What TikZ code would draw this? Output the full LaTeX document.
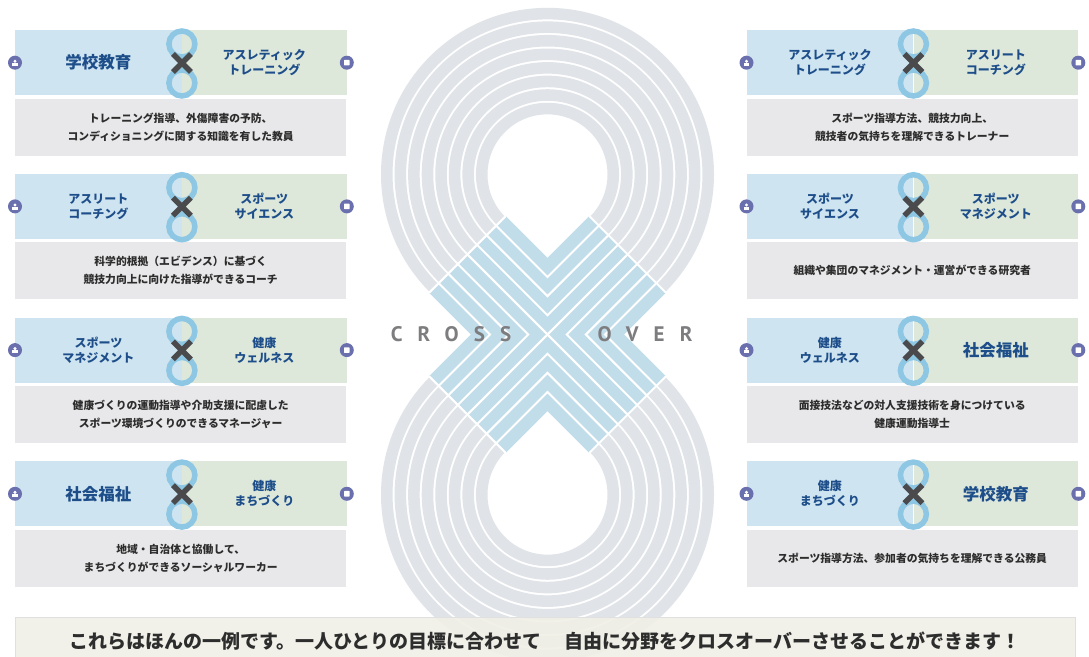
\documentclass[tikz,border=0pt]{standalone}
\usepackage{fontspec}
\setmainfont{Noto Sans CJK JP}
\newfontfamily\capsfont{PT Sans}[LetterSpace=72]
\usepackage{tikz}
\usetikzlibrary{positioning, calc}
\definecolor{bandBlue}{RGB}{206,228,240}
\definecolor{bandGreen}{RGB}{221,232,219}
\definecolor{descGray}{RGB}{232,232,234}
\definecolor{headBlue}{RGB}{30,78,138}
\definecolor{ringBlue}{RGB}{142,199,228}
\definecolor{crossGray}{RGB}{74,74,76}
\definecolor{iconPurple}{RGB}{106,111,174}
\definecolor{trackGray}{RGB}{224,228,232}
\definecolor{laneBlue}{RGB}{194,221,234}
\definecolor{noteBeige}{RGB}{240,240,230}
\definecolor{textDark}{RGB}{45,45,45}
\definecolor{wordGray}{RGB}{125,125,128}

% one card: #1 name, #2/#3 top left corner, #4/#5 left field, #6/#7 right field, #8 role
\newcommand{\pairbox}[8]{%
  \node[lhalf, #4, anchor=north west] (#1l) at (#2,#3) {#5};
  \node[rhalf, #6, right=0pt of #1l] (#1r) {#7};
  \node[descbox, anchor=north west] (#1d) at ([yshift=-3pt]#1l.south west) {#8};
  \node[icondot] (#1p) at (#1l.west) {};
  \node[icondot] (#1q) at (#1r.east) {};
  \fill[white] ([shift={(-2.6,-3.2)}]#1p.center) rectangle ++(5.2,2.8);
  \fill[white] ([yshift=1.4pt]#1p.center) circle[radius=1.7];
  \fill[white, rounded corners=0.6pt] ([shift={(-2.8,-2.8)}]#1q.center) rectangle ++(5.6,5.6);
  \draw[ringicon] ([yshift=-14pt]#1l.north east) circle[radius=13]
                  ([yshift=-53pt]#1l.north east) circle[radius=13];
  \draw[crossmark] ([yshift=-33pt]#1l.north east) +(-9,-9) -- +(9,9) +(-9,9) -- +(9,-9);
}

\begin{document}
\begin{tikzpicture}[x=1pt, y=1pt,
    lhalf/.style={rectangle, fill=bandBlue, minimum width=166.5pt, minimum height=65pt,
      inner sep=0pt, align=center, text=headBlue, font=\bfseries\fontsize{12}{15}\selectfont},
    rhalf/.style={lhalf, fill=bandGreen, minimum width=164.5pt},
    bigname/.style={font=\bfseries\fontsize{16.5}{19}\selectfont},
    descbox/.style={rectangle, fill=descGray, minimum width=331pt, minimum height=57pt,
      inner sep=0pt, align=center, text=textDark, font=\bfseries\fontsize{10.8}{18}\selectfont},
    icondot/.style={circle, fill=iconPurple, minimum size=14pt, inner sep=0pt},
    ringicon/.style={draw=ringBlue, line width=5.5pt},
    crossmark/.style={draw=crossGray, line width=5.5pt},
    trackarc/.style={draw=trackGray, line width=11.56pt},
    laneband/.style={fill=laneBlue},
    lanegap/.style={draw=white, line width=2pt},
    capword/.style={text=wordGray, font=\capsfont\bfseries\fontsize{21}{21}\selectfont},
    notebar/.style={rectangle, fill=noteBeige, fill opacity=0.88, text opacity=1,
      draw=black!12, minimum width=1060pt, minimum height=48pt, inner sep=0pt,
      text=textDark, font=\bfseries\fontsize{19}{20}\selectfont}
  ]
  \useasboundingbox (0,0) rectangle (1089,656);
  \fill[white] (0,0) rectangle (1089,656);

  % the big eight: grey loops, blue crossing lanes
  \begin{scope}[shift={(547.5,321.5)}]
    \foreach \i in {0,...,7} {
      \pgfmathsetmacro\r{59+13.5625*(\i+0.5)}
      \draw[trackarc] ([shift={(0,160.16)}]-45:\r) arc[start angle=-45, end angle=225, radius=\r];
      \draw[trackarc] ([shift={(0,-160.16)}]135:\r) arc[start angle=135, end angle=405, radius=\r];
    }
    \begin{scope}[rotate=-45]
      \fill[laneband] (-113.25,-54.25) rectangle (113.25,54.25);
      \fill[laneband] (-54.25,-113.25) rectangle (54.25,113.25);
      \foreach \b in {0,13.5625,27.125,40.6875}
        \foreach \sx/\sy in {1/1,1/-1,-1/1,-1/-1}
          \draw[lanegap] (\sx*113.25,\sy*\b) -- (\sx*\b,\sy*\b) -- (\sx*\b,\sy*113.25);
      \foreach \s in {1,-1} {
        \draw[lanegap] (\s*113.25,-54.25) -- (\s*113.25,54.25);
        \draw[lanegap] (-54.25,\s*113.25) -- (54.25,\s*113.25);
      }
    \end{scope}
  \end{scope}
  \node[capword] (cross) at (451,322) {CROSS};
  \node[capword] (over) at (645,322) {OVER};

  % left column
  \pairbox{l1}{15}{626}{bigname}{学校教育}{}{アスレティック\\トレーニング}%
    {トレーニング指導、外傷障害の予防、\\コンディショニングに関する知識を有した教員}
  \pairbox{l2}{15}{482.3}{}{アスリート\\コーチング}{}{スポーツ\\サイエンス}%
    {科学的根拠（エビデンス）に基づく\\競技力向上に向けた指導ができるコーチ}
  \pairbox{l3}{15}{338.6}{}{スポーツ\\マネジメント}{}{健康\\ウェルネス}%
    {健康づくりの運動指導や介助支援に配慮した\\スポーツ環境づくりのできるマネージャー}
  \pairbox{l4}{15}{194.9}{bigname}{社会福祉}{}{健康\\まちづくり}%
    {地域・自治体と協働して、\\まちづくりができるソーシャルワーカー}

  % right column
  \pairbox{r1}{746.5}{626}{}{アスレティック\\トレーニング}{}{アスリート\\コーチング}%
    {スポーツ指導方法、競技力向上、\\競技者の気持ちを理解できるトレーナー}
  \pairbox{r2}{746.5}{482.3}{}{スポーツ\\サイエンス}{}{スポーツ\\マネジメント}%
    {組織や集団のマネジメント・運営ができる研究者}
  \pairbox{r3}{746.5}{338.6}{}{健康\\ウェルネス}{bigname}{社会福祉}%
    {面接技法などの対人支援技術を身につけている\\健康運動指導士}
  \pairbox{r4}{746.5}{194.9}{}{健康\\まちづくり}{bigname}{学校教育}%
    {スポーツ指導方法、参加者の気持ちを理解できる公務員}

  \node[notebar, anchor=north] (note) at (545,39)
    {これらはほんの一例です。一人ひとりの目標に合わせて\hspace{1.2em}自由に分野をクロスオーバーさせることができます！\hspace{1em}};
\end{tikzpicture}
\end{document}
